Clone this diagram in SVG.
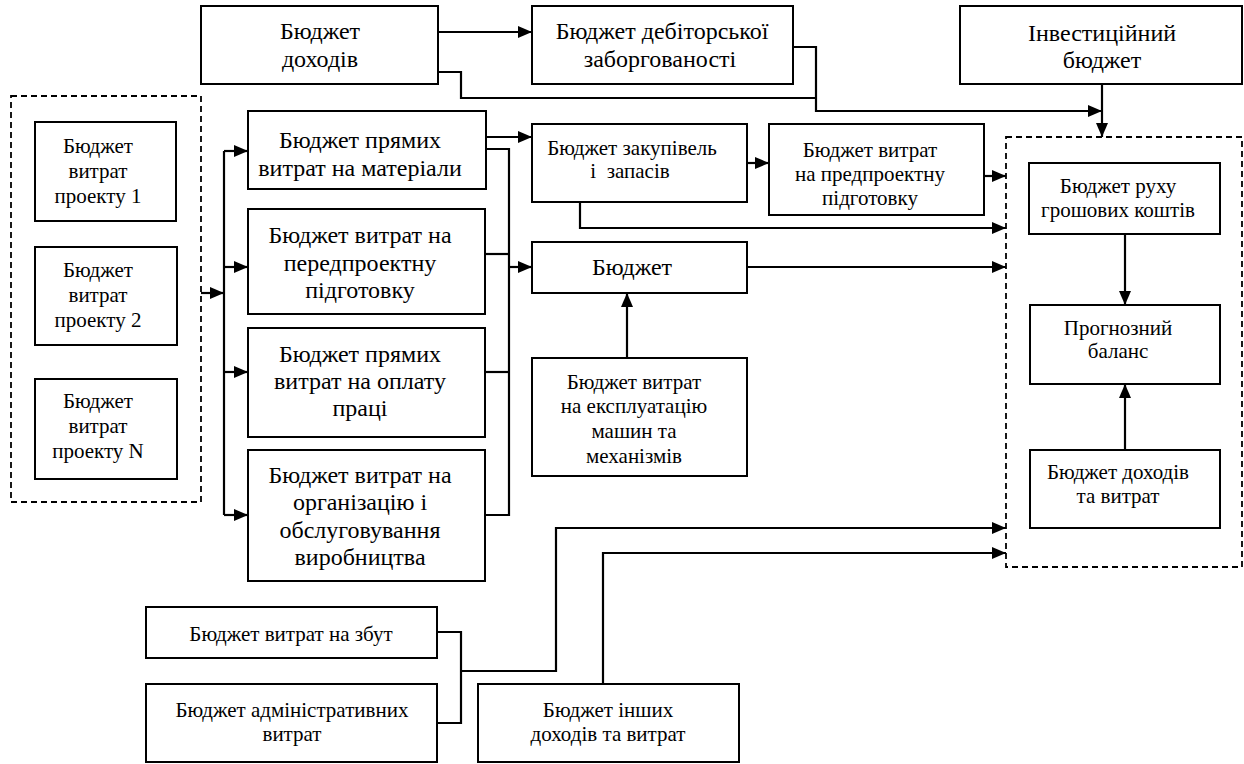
<svg xmlns="http://www.w3.org/2000/svg" width="1244" height="764" viewBox="0 0 1244 764" font-family="'Liberation Serif', 'Times New Roman', Tinos, 'DejaVu Serif', serif">
<style>
.b{fill:#fff;stroke:#000;stroke-width:2}
.d{fill:none;stroke:#000;stroke-width:1.8;stroke-dasharray:6 4}
.c{fill:none;stroke:#000;stroke-width:2.2}
.a{marker-end:url(#ah)}
text{fill:#000;text-anchor:middle}
.t24{font-size:24px}
.t21{font-size:21px}
</style>
<defs>
<marker id="ah" markerUnits="userSpaceOnUse" markerWidth="14" markerHeight="12" refX="14" refY="6" orient="auto">
<path d="M0,0 L14,6 L0,12 z" fill="#000"/>
</marker>
</defs>
<rect width="1244" height="764" fill="#fff"/>

<g id="group-projects"><rect class="d" x="11" y="96" width="190" height="406"/></g>
<g id="group-final"><rect class="d" x="1006" y="137" width="236" height="430"/></g>

<g id="connectors">
<path class="c a" d="M438,32 H532"/>
<path class="c" d="M438,72 H461 V98 H816"/>
<path class="c a" d="M793,47 H816 V111 H1102"/>
<path class="c a" d="M1102,84 V137"/>
<path class="c a" d="M201,293 H224"/>
<path class="c" d="M224,151 V515"/>
<path class="c a" d="M224,151 H248"/>
<path class="c a" d="M224,267 H248"/>
<path class="c a" d="M224,372 H248"/>
<path class="c a" d="M224,515 H248"/>
<path class="c a" d="M486,137 H532"/>
<path class="c" d="M486,149 H509 V515 H485"/>
<path class="c" d="M485,254 H509"/>
<path class="c" d="M485,372 H509"/>
<path class="c a" d="M509,267 H532"/>
<path class="c a" d="M747,163 H769"/>
<path class="c a" d="M984,176 H1006"/>
<path class="c a" d="M580,202 V228 H1006"/>
<path class="c a" d="M747,267 H1006"/>
<path class="c a" d="M627,358 V293"/>
<path class="c a" d="M1125,234 V305"/>
<path class="c a" d="M1125,450 V384"/>
<path class="c" d="M437,632 H461 V723 H437"/>
<path class="c a" d="M461,671 H556 V528 H1006"/>
<path class="c a" d="M603,684 V553 H1006"/>
</g>

<g id="n-dohodiv"><rect class="b" x="201" y="6" width="237" height="78"/>
<text class="t24" x="320" y="39">Бюджет</text><text class="t24" x="320" y="67">доходів</text></g>

<g id="n-debitor"><rect class="b" x="532" y="6" width="261" height="78"/>
<text class="t24" x="662" y="39">Бюджет дебіторської</text><text class="t24" x="660" y="67">заборгованості</text></g>

<g id="n-invest"><rect class="b" x="960" y="6" width="282" height="78"/>
<text class="t24" x="1102" y="41">Інвестиційний</text><text class="t24" x="1102" y="68">бюджет</text></g>

<g id="n-p1"><rect class="b" x="35" y="122" width="141" height="99"/>
<text class="t21" x="98" y="153">Бюджет</text><text class="t21" x="98" y="178">витрат</text><text class="t21" x="98" y="203">проекту 1</text></g>

<g id="n-p2"><rect class="b" x="35" y="247" width="142" height="98"/>
<text class="t21" x="98" y="277">Бюджет</text><text class="t21" x="98" y="302">витрат</text><text class="t21" x="98" y="327">проекту 2</text></g>

<g id="n-pn"><rect class="b" x="35" y="379" width="142" height="100"/>
<text class="t21" x="98" y="408">Бюджет</text><text class="t21" x="98" y="433">витрат</text><text class="t21" x="98" y="458">проекту N</text></g>

<g id="n-material"><rect class="b" x="248" y="111" width="238" height="78"/>
<text class="t24" x="360" y="148">Бюджет прямих</text><text class="t24" x="360" y="176">витрат на матеріали</text></g>

<g id="n-peredproekt"><rect class="b" x="248" y="209" width="237" height="105"/>
<text class="t24" x="360" y="243">Бюджет витрат на</text><text class="t24" x="360" y="271">передпроектну</text><text class="t24" x="360" y="298">підготовку</text></g>

<g id="n-oplata"><rect class="b" x="248" y="328" width="237" height="109"/>
<text class="t24" x="360" y="362">Бюджет прямих</text><text class="t24" x="360" y="389">витрат на оплату</text><text class="t24" x="360" y="416">праці</text></g>

<g id="n-organiz"><rect class="b" x="248" y="450" width="237" height="131"/>
<text class="t24" x="360" y="483">Бюджет витрат на</text><text class="t24" x="360" y="510">організацію і</text><text class="t24" x="360" y="538">обслуговування</text><text class="t24" x="360" y="565">виробництва</text></g>

<g id="n-zakup"><rect class="b" x="532" y="124" width="215" height="78"/>
<text class="t21" x="632" y="155">Бюджет закупівель</text><text class="t21" x="630" y="178" xml:space="preserve">і  запасів</text></g>

<g id="n-predproekt"><rect class="b" x="769" y="124" width="215" height="91"/>
<text class="t21" x="870" y="157">Бюджет витрат</text><text class="t21" x="870" y="181">на предпроектну</text><text class="t21" x="870" y="205">підготовку</text></g>

<g id="n-budget"><rect class="b" x="532" y="242" width="215" height="51"/>
<text class="t24" x="632" y="275">Бюджет</text></g>

<g id="n-ekspl"><rect class="b" x="532" y="358" width="215" height="118"/>
<text class="t21" x="634" y="389">Бюджет витрат</text><text class="t21" x="634" y="413">на експлуатацію</text><text class="t21" x="634" y="438">машин та</text><text class="t21" x="634" y="463">механізмів</text></g>

<g id="n-ruh"><rect class="b" x="1029" y="163" width="191" height="71"/>
<text class="t21" x="1118" y="193">Бюджет руху</text><text class="t21" x="1118" y="217">грошових коштів</text></g>

<g id="n-prognoz"><rect class="b" x="1030" y="305" width="190" height="79"/>
<text class="t21" x="1118" y="335">Прогнозний</text><text class="t21" x="1118" y="358">баланс</text></g>

<g id="n-dohvytr"><rect class="b" x="1030" y="450" width="190" height="78"/>
<text class="t21" x="1118" y="479">Бюджет доходів</text><text class="t21" x="1118" y="503">та витрат</text></g>

<g id="n-zbut"><rect class="b" x="146" y="607" width="291" height="51"/>
<text class="t21" x="291" y="641">Бюджет витрат на збут</text></g>

<g id="n-admin"><rect class="b" x="146" y="684" width="291" height="78"/>
<text class="t21" x="292" y="717">Бюджет адміністративних</text><text class="t21" x="292" y="741">витрат</text></g>

<g id="n-inshi"><rect class="b" x="478" y="684" width="261" height="78"/>
<text class="t21" x="608" y="717">Бюджет інших</text><text class="t21" x="608" y="741">доходів та витрат</text></g>
</svg>
